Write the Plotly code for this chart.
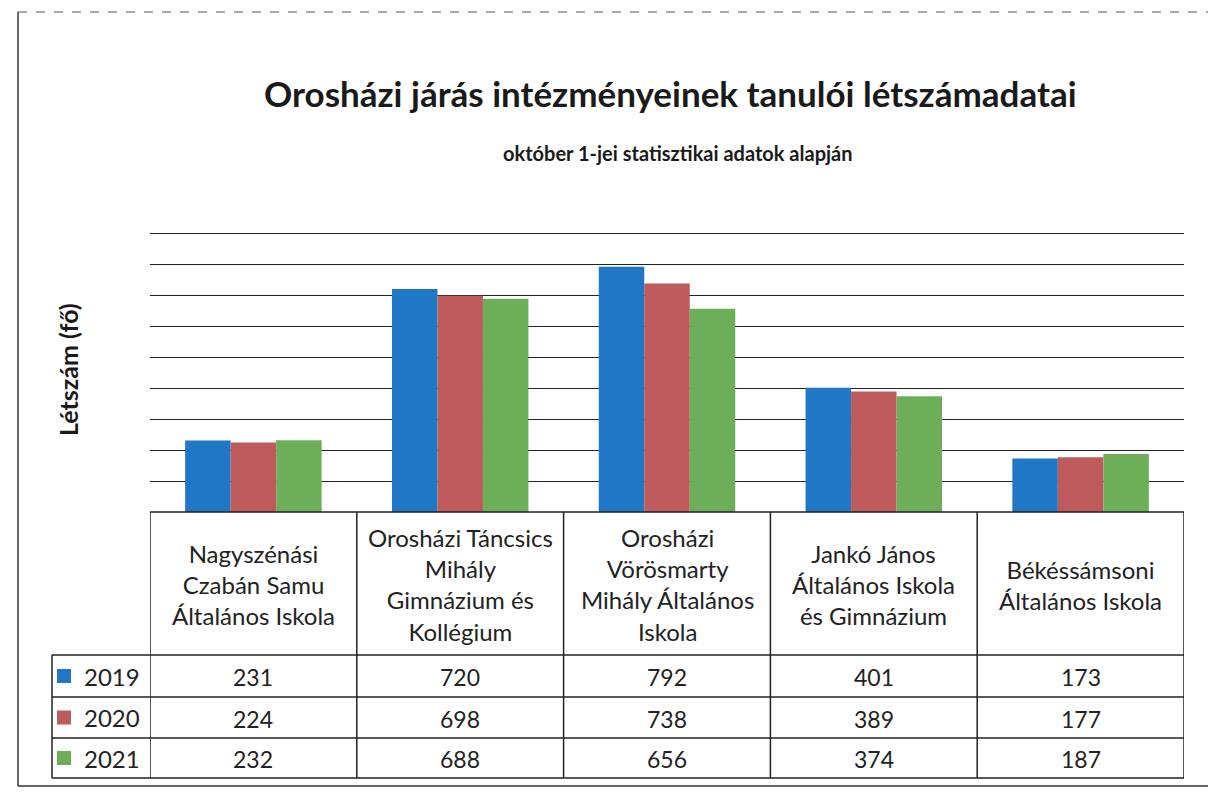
import plotly.graph_objects as go

# ---------------- data ----------------
categories = [
    "Nagyszénási Czabán Samu Általános Iskola",
    "Orosházi Táncsics Mihály Gimnázium és Kollégium",
    "Orosházi Vörösmarty Mihály Általános Iskola",
    "Jankó János Általános Iskola és Gimnázium",
    "Békéssámsoni Általános Iskola",
]
header_labels = [
    "Nagyszénási<br>Czabán Samu<br>Általános Iskola",
    "Orosházi Táncsics<br>Mihály<br>Gimnázium és<br>Kollégium",
    "Orosházi<br>Vörösmarty<br>Mihály Általános<br>Iskola",
    "Jankó János<br>Általános Iskola<br>és Gimnázium",
    "Békéssámsoni<br>Általános Iskola",
]
years = ["2019", "2020", "2021"]
values_2019 = [231, 720, 792, 401, 173]
values_2020 = [224, 698, 738, 389, 177]
values_2021 = [232, 688, 656, 374, 187]
series = [values_2019, values_2020, values_2021]
colors = ["#1F77C6", "#BE5A5C", "#6DAF58"]

title_text = "Orosházi járás intézményeinek tanulói létszámadatai"
subtitle_text = "október 1-jei statisztikai adatok alapján"
y_title = "Létszám (fő)"

# ---------------- layout geometry (pixels) ----------------
W, H = 1208, 792
L, R, T, B = 150, 24, 227, 280
PW = W - L - R
PH = H - T - B
FONT = "Lato, 'Open Sans', sans-serif"


def px(xp):
    return (xp - L) / PW


def py(yp):
    return (H - B - yp) / PH


fig = go.Figure()
for name, vals, col in zip(years, series, colors):
    fig.add_trace(go.Bar(x=categories, y=vals, name=name,
                         marker=dict(color=col, line=dict(width=0)),
                         showlegend=False, hoverinfo="x+y+name"))

shapes = []
annotations = []

# table geometry
header_top, header_bot = 512, 655
row_lines = [655, 697, 738, 778]
legend_left = 52
n = len(categories)
LINE = dict(color="#222", width=1.5)

shapes.append(dict(type="line", xref="x", yref="paper", x0=-0.5, x1=n - 0.5,
                   y0=py(header_top), y1=py(header_top), line=LINE))
for yl in row_lines:
    shapes.append(dict(type="line", xref="paper", yref="paper", x0=px(legend_left), x1=1,
                       y0=py(yl), y1=py(yl), line=LINE))
for i in range(n + 1):
    shapes.append(dict(type="line", xref="x", yref="paper", x0=i - 0.5, x1=i - 0.5,
                       y0=py(header_top), y1=py(row_lines[-1]), line=LINE))
shapes.append(dict(type="line", xref="paper", yref="paper", x0=px(legend_left), x1=px(legend_left),
                   y0=py(row_lines[0]), y1=py(row_lines[-1]), line=LINE))

# header text
for cat, lab in zip(categories, header_labels):
    annotations.append(dict(x=cat, xref="x", y=py((header_top + header_bot) / 2 + 1), yref="paper",
                            text=lab, showarrow=False, xanchor="center", yanchor="middle",
                            font=dict(family=FONT, size=24, color="#222")))

# value rows + legend keys
for r, (name, vals, col) in enumerate(zip(years, series, colors)):
    y0p, y1p = row_lines[r], row_lines[r + 1]
    yc = (y0p + y1p) / 2
    for cat, v in zip(categories, vals):
        annotations.append(dict(x=cat, xref="x", y=py(yc + 1), yref="paper", text=str(v),
                                showarrow=False, xanchor="center", yanchor="middle",
                                font=dict(family=FONT, size=23, color="#222")))
    shapes.append(dict(type="rect", xref="paper", yref="paper",
                       x0=px(57), x1=px(71), y0=py(yc - 7), y1=py(yc + 7),
                       fillcolor=col, line=dict(width=0)))
    annotations.append(dict(x=px(82), xref="paper", y=py(yc), yref="paper", text=name,
                            showarrow=False, xanchor="left", yanchor="middle",
                            font=dict(family=FONT, size=24, color="#222")))

# outer frame
shapes.append(dict(type="line", xref="paper", yref="paper", x0=px(18), x1=px(18),
                   y0=py(12), y1=py(786), line=dict(color="#333", width=1.5)))
shapes.append(dict(type="line", xref="paper", yref="paper", x0=px(18), x1=px(1208),
                   y0=py(12), y1=py(12), line=dict(color="#555", width=1.2, dash="dash")))
shapes.append(dict(type="line", xref="paper", yref="paper", x0=px(18), x1=px(1208),
                   y0=py(786), y1=py(786), line=dict(color="#333", width=1.5)))

# titles
annotations.append(dict(x=px(670), xref="paper", y=py(93), yref="paper", text=f"<b>{title_text}</b>",
                        showarrow=False, xanchor="center", yanchor="middle",
                        font=dict(family=FONT, size=35, color="#1a1a1a")))
annotations.append(dict(x=px(678), xref="paper", y=py(153), yref="paper", text=f"<b>{subtitle_text}</b>",
                        showarrow=False, xanchor="center", yanchor="middle",
                        font=dict(family=FONT, size=20, color="#1a1a1a")))
annotations.append(dict(x=px(68), xref="paper", y=py(370), yref="paper", text=f"<b>{y_title}</b>",
                        showarrow=False, xanchor="center", yanchor="middle", textangle=-90,
                        font=dict(family=FONT, size=25, color="#1a1a1a")))

fig.update_layout(
    width=W, height=H,
    margin=dict(l=L, r=R, t=T, b=B, pad=0),
    paper_bgcolor="white", plot_bgcolor="white",
    barmode="group", bargap=0.34, bargroupgap=0,
    shapes=shapes, annotations=annotations,
    xaxis=dict(showticklabels=False, showgrid=False, zeroline=False, showline=False,
               ticks="", range=[-0.5, n - 0.5]),
    yaxis=dict(range=[0, 920], dtick=100, showticklabels=False, showgrid=True,
               gridcolor="#222", gridwidth=1.4, zeroline=False, showline=False, ticks=""),
    font=dict(family=FONT),
)

fig.write_html("out.html", config={"displayModeBar": False},
               post_script="document.body.style.margin='0px';")
